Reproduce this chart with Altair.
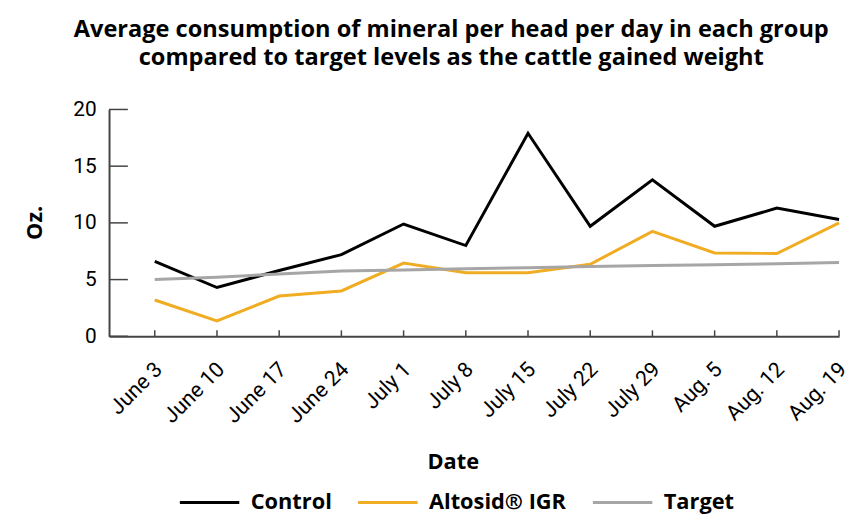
import altair as alt
import pandas as pd

dates = ["June 3", "June 10", "June 17", "June 24", "July 1", "July 8",
         "July 15", "July 22", "July 29", "Aug. 5", "Aug. 12", "Aug. 19"]
control = [6.6, 4.3, 5.8, 7.2, 9.9, 8.0, 17.9, 9.7, 13.8, 9.7, 11.3, 10.3]
altosid = [3.2, 1.35, 3.55, 4.0, 6.45, 5.6, 5.6, 6.35, 9.25, 7.35, 7.3, 10.0]
target = [5.0, 5.2, 5.5, 5.75, 5.85, 5.95, 6.05, 6.15, 6.25, 6.3, 6.4, 6.5]
series_names = ["Control", "Altosid® IGR", "Target"]
series_colors = ["#000000", "#F0AC22", "#A6A6A6"]
y_ticks = [0, 5, 10, 15, 20]

rows = []
for name, vals in zip(series_names, [control, altosid, target]):
    for i, (d, v) in enumerate(zip(dates, vals)):
        rows.append({"idx": i, "Date": d, "value": v, "series": name})
df = pd.DataFrame(rows)

W, H = 737, 229
FONT = "Roboto"
BOLD = "Open Sans"
label_expr = "[" + ",".join("'" + d + "'" for d in dates) + "][datum.value]"

x_scale = alt.Scale(domain=[-0.735, 11], nice=False, zero=False)
y_scale = alt.Scale(domain=[0, 20], nice=False)

lines = alt.Chart(df).mark_line(strokeWidth=3).encode(
    x=alt.X("idx:Q", scale=x_scale,
            axis=alt.Axis(values=list(range(len(dates))), labelExpr=label_expr,
                          labelAngle=315, labelAlign="right", labelBaseline="middle",
                          labelPadding=30, labelOffset=4, labelFontSize=21.5,
                          labelFont=FONT, labelColor="#000", ticks=False, grid=False,
                          labelOverlap=False, labelBound=False,
                          domainColor="#444", domainWidth=2,
                          title="Date", titleFont=BOLD, titleFontSize=22,
                          titleFontWeight="bold", titleColor="#000",
                          titleX=347, titleY=126, titleBaseline="middle",
                          titleAlign="center")),
    y=alt.Y("value:Q", scale=y_scale,
            axis=alt.Axis(values=y_ticks, ticks=False, grid=False,
                          labelFontSize=21, labelFont=FONT, labelColor="#000",
                          labelPadding=13, domainColor="#444", domainWidth=2,
                          title="Oz.", titleFont=BOLD, titleFontSize=22,
                          titleFontWeight="bold", titleColor="#000",
                          titleX=-75, titleY=114, titleAngle=270,
                          titleBaseline="middle", titleAlign="center")),
    color=alt.Color("series:N",
                    scale=alt.Scale(domain=series_names, range=series_colors),
                    legend=alt.Legend(title=None, orient="none", direction="horizontal",
                                      legendX=70, legendY=365,
                                      symbolType="stroke", symbolSize=3600,
                                      symbolStrokeWidth=3, labelFont=BOLD,
                                      labelFontSize=22, labelFontWeight="bold",
                                      labelColor="#000", labelOffset=10,
                                      columnPadding=20)),
    order="idx:Q",
)

ytick_df = pd.DataFrame({"y": y_ticks})
yticks = alt.Chart(ytick_df).mark_rule(color="#444", strokeWidth=1.5).encode(
    y=alt.Y("y:Q", scale=y_scale),
    x=alt.value(0), x2=alt.value(19),
)

xtick_df = pd.DataFrame({"idx": list(range(len(dates)))})
xticks = alt.Chart(xtick_df).mark_rule(color="#444", strokeWidth=1.5).encode(
    x=alt.X("idx:Q", scale=x_scale),
    y=alt.value(H - 6), y2=alt.value(H),
)

chart = alt.layer(yticks, xticks, lines).properties(
    width=W, height=H,
    title=alt.Title(
        ["Average consumption of mineral per head per day in each group",
         "compared to target levels as the cattle gained weight"],
        font=BOLD, fontSize=23.8, fontWeight="bold", color="#000",
        anchor="middle", dx=-23, offset=29, lineHeight=28.5),
    autosize=alt.AutoSizeParams(type="none"),
    padding={"left": 102, "top": 100, "right": 6, "bottom": 179},
).configure_view(stroke=None)

chart.save("out.html", embed_options={"renderer": "svg", "actions": False})
